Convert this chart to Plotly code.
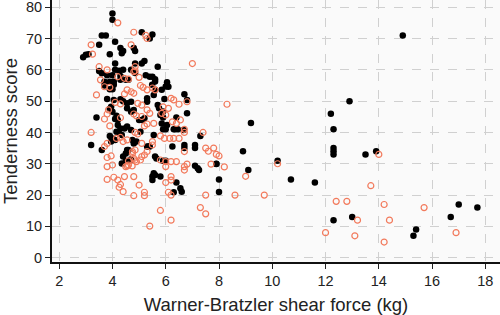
import plotly.graph_objects as go

# Black (filled) series
black_x = [4.0, 4.0, 3.6, 3.75, 5.1, 5.5, 5.4, 3.5, 4.1, 4.3, 4.4, 4.35, 4.8, 4.85, 3.9, 3.1, 2.9,
           4.1, 5.2, 5.1, 5.7, 4.85, 3.5, 3.6, 4.1, 4.25, 4.4, 4.7, 4.85, 3.8, 4.0, 4.3, 5.4, 5.5,
           5.6, 5.6, 5.25, 3.7, 3.9, 4.05, 4.3, 4.5, 4.6, 6.05, 6.0, 6.1, 3.9, 4.0, 4.05, 6.7, 5.3,
           5.3, 3.8, 4.05, 4.3, 4.4, 5.95, 6.8, 4.55, 4.7, 3.95, 3.9, 4.0, 5.7, 5.75, 4.55, 4.7, 4.8,
           6.8, 3.4, 4.15, 4.1, 4.2, 5.8, 5.9, 5.2, 5.1, 5.0, 6.4, 5.85, 6.05, 4.2, 4.3, 4.45, 4.55,
           4.7, 6.3, 6.35, 6.45, 6.0, 5.9, 4.15, 4.25, 4.35, 5.05, 7.3, 5.55, 3.9, 4.0, 4.1, 3.95,
           4.75, 4.8, 4.9, 3.2, 5.3, 5.35, 6.7, 6.7, 7.1, 7.1, 6.25, 4.6, 4.5, 4.4, 8.9, 3.6, 4.55,
           4.35, 4.7, 5.6, 5.65, 5.9, 6.0, 7.1, 7.2, 7.25, 7.9, 4.5, 4.68, 5.5, 5.5, 5.6, 5.55, 5.8,
           6.4, 6.55, 6.6, 6.3, 8.0, 8.0, 9.1, 9.2, 7.9, 10.2, 10.7, 11.6, 12.2, 12.3, 12.9, 12.3,
           12.3, 12.3, 13.5, 13.9, 14.9, 12.3, 13.0, 15.4, 15.3, 16.7, 17.0, 17.7, 5.9, 5.85, 5.49,
           5.6, 5.55, 6.67, 5.4, 3.0, 3.7]
black_y = [78, 76, 71, 71, 72, 71.3, 70, 68, 69, 67, 66, 65.3, 67, 66, 65, 65, 64,
           62, 62.8, 62, 61, 62, 59.6, 58.9, 60, 59.7, 60, 60, 59, 58.3, 58.3, 58, 57.8, 57.8,
           57, 56.3, 58.3, 56.2, 56.2, 56.2, 56.8, 56.8, 56.8, 56, 54.7, 54.6, 53.8, 53.8, 55.2, 52.2, 50.9,
           49.8, 50.7, 50.4, 50.6, 50, 50.7, 50.4, 49.3, 49.8, 48.2, 47.6, 46.6, 48.8, 47.7, 47.7, 46.6, 47.2,
           46.1, 44.8, 45.3, 44.3, 44, 45.6, 44.8, 44.5, 44, 44, 44.8, 42.9, 42.4, 42.4, 41.3, 41.3, 41.9,
           40.8, 41, 41, 41, 41, 41, 40.2, 39.7, 39.2, 40.2, 38.9, 39.2, 38.9, 38.1, 37.6, 37.1,
           37.6, 36.5, 37.1, 36, 35.5, 35.5, 36, 35, 36, 35, 35.5, 34.4, 33.3, 32.3, 34, 34.4, 34.4,
           30.1, 31.2, 32.3, 31.7, 31, 31, 29.4, 28.6, 28, 29.9, 30.9, 31.4, 25.9, 24.8, 26.4, 27, 25.9,
           24, 22.2, 21.1, 20.9, 25, 21, 28, 43, 30, 31, 25, 24, 46, 41, 50, 35,
           34, 33, 33, 34, 71, 12, 13, 9, 7, 13, 17, 16, 46.7, 53.6, 55.2,
           53.6, 52, 40.8, 35.5, 64.8, 55]

# Orange (open) series
orange_x = [4.2, 4.8, 5.25, 5.3, 3.2, 4.7, 3.25, 7.0, 4.85, 3.5, 3.8, 4.85, 4.8, 5.0, 4.2, 4.45, 4.6,
            3.55, 3.7, 3.9, 5.05, 5.15, 5.5, 5.6, 5.3, 4.7, 4.8, 4.55, 4.45, 3.4, 6.2, 6.3, 4.1, 4.3,
            6.8, 6.5, 4.95, 5.1, 3.85, 3.8, 5.9, 6.1, 5.3, 5.4, 5.85, 6.0, 3.7, 4.3, 4.8, 4.9, 5.1,
            6.25, 6.4, 6.55, 5.55, 5.3, 5.2, 3.9, 3.2, 6.7, 4.85, 4.95, 6.7, 7.4, 5.8, 5.95, 6.15,
            6.3, 6.5, 4.15, 4.3, 4.4, 4.55, 3.8, 3.7, 5.1, 5.5, 5.5, 6.7, 7.5, 7.6, 7.8, 7.9, 8.0,
            4.75, 4.85, 3.8, 3.95, 4.75, 4.8, 4.85, 5.2, 5.3, 5.8, 6.0, 6.0, 6.2, 6.4, 6.7, 6.8,
            6.7, 7.7, 8.2, 3.8, 4.0, 4.5, 4.6, 4.9, 5.05, 5.1, 4.6, 4.56, 4.74, 6.2, 6.2, 6.0, 6.1,
            6.2, 3.8, 4.2, 4.3, 4.25, 4.4, 4.05, 4.45, 4.8, 5.0, 4.8, 5.2, 5.2, 5.8, 6.2, 5.4, 7.3,
            7.5, 7.5, 8.6, 9.0, 8.3, 10.2, 9.7, 13.7, 12.4, 12.8, 14.2, 15.7, 13.2, 14.4, 12.0, 13.1,
            14.2, 16.9, 14.0]
orange_y = [75, 72, 71, 70, 68, 68, 65, 62, 61, 61, 60, 59.7, 59.4, 57.6, 57.8, 57.3, 57,
            56.8, 54.6, 54.4, 55, 54.4, 54.2, 53.6, 53.6, 53, 52.5, 53.6, 52.3, 52, 50.9, 50.4, 49.6, 49.1,
            49.8, 49, 49.3, 48.7, 47.2, 45.9, 48.2, 47.7, 47.2, 46.1, 46.1, 45.6, 44.3, 44.7, 45.9, 45.3, 45.1,
            43.4, 42.9, 44, 42.9, 42.7, 42.1, 42.1, 40, 41, 40, 39.5, 40, 40, 38.9, 38.1, 38.1,
            38.1, 38.1, 38.1, 38.4, 37.1, 37.6, 36.5, 35.5, 36.5, 37.1, 36, 33.9, 35, 34, 35, 33, 32.5,
            33.9, 34.4, 32, 32.5, 33.3, 31.7, 31.2, 32.8, 33.9, 31.2, 30.7, 29.1, 30.7, 30.7, 29.1, 29.9,
            28, 29.9, 29, 29.1, 29.6, 29.1, 29.6, 30.7, 31.2, 32.3, 30.9, 29.3, 29.3, 25.9, 24.8, 24, 20.9,
            20, 25, 24.8, 23.4, 22.5, 21.1, 25.7, 25.9, 25.9, 23.2, 19.8, 20.9, 19.8, 15.1, 12, 10.1, 16,
            14, 20, 20, 26, 49, 30, 20, 23, 18, 18, 17, 16, 12, 12, 8, 7,
            5, 8, 33]

x_ticks = [2, 4, 6, 8, 10, 12, 14, 16, 18]
y_ticks = [0, 10, 20, 30, 40, 50, 60, 70, 80]

fig = go.Figure()
fig.add_trace(go.Scatter(x=black_x, y=black_y, mode="markers",
                         marker=dict(color="black", size=6.5, line=dict(width=0)),
                         showlegend=False, hoverinfo="skip"))
fig.add_trace(go.Scatter(x=orange_x, y=orange_y, mode="markers",
                         marker=dict(symbol="circle-open", color="#f27a5c", size=6,
                                     line=dict(width=1.2)),
                         showlegend=False, hoverinfo="skip"))

font_family = "Liberation Sans, Arial, sans-serif"
fig.update_layout(
    width=500, height=315,
    margin=dict(l=52, r=0, t=0, b=53),
    paper_bgcolor="white",
    plot_bgcolor="#fafafa",
    font=dict(family=font_family, size=14.5, color="#222"),
    xaxis=dict(range=[1.73, 18.55], tickvals=x_ticks, ticks="outside", ticklen=5,
               tickcolor="#222", showline=True, linecolor="#111", linewidth=2,
               showgrid=True, gridcolor="#d0d0d0", griddash="dash", gridwidth=1,
               zeroline=False, automargin=False, ticklabeloverflow="allow",
               title=dict(text="Warner-Bratzler shear force (kg)", font=dict(size=18.5)),
               tickfont=dict(size=14.5)),
    yaxis=dict(range=[-1.37, 82.3], tickvals=y_ticks, ticks="outside", ticklen=5,
               tickcolor="#222", showline=True, linecolor="#111", linewidth=2,
               showgrid=True, gridcolor="#d0d0d0", griddash="dash", gridwidth=1,
               zeroline=False, automargin=False, ticklabeloverflow="allow",
               title=dict(text="Tenderness score", font=dict(size=18.5)),
               tickfont=dict(size=14.5)),
)

fig.write_html("out.html", config={"displayModeBar": False},
               post_script="document.body.style.margin='0';document.body.style.overflow='hidden';")
